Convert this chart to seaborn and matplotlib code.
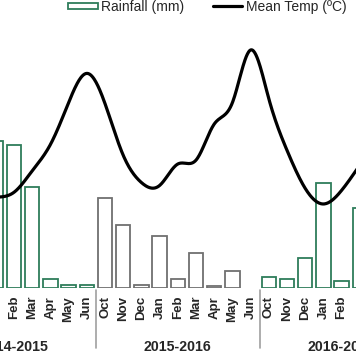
import numpy as np
import pandas as pd
import matplotlib
matplotlib.use('Agg')
import matplotlib.pyplot as plt
import matplotlib.transforms as mtransforms
from matplotlib.patches import Patch, Rectangle
from matplotlib.lines import Line2D
from matplotlib.legend_handler import HandlerPatch
import seaborn as sns

# visible part of the chart: Jan 2015 .. Mar 2017
season_names = ['2014-2015', '2015-2016', '2016-2017']
month_cycle = ['Oct', 'Nov', 'Dec', 'Jan', 'Feb', 'Mar', 'Apr', 'May', 'Jun']

season = ['2014-2015'] * 6 + ['2015-2016'] * 9 + ['2016-2017'] * 6
month = ['Jan', 'Feb', 'Mar', 'Apr', 'May', 'Jun',
         'Oct', 'Nov', 'Dec', 'Jan', 'Feb', 'Mar', 'Apr', 'May', 'Jun',
         'Oct', 'Nov', 'Dec', 'Jan', 'Feb', 'Mar']
rainfall = [147, 143, 101, 9, 3, 3,
            90, 63, 3, 52, 9, 35, 1.5, 17, 0,
            11, 9, 30, 105, 7, 80]
temp = [18.9, 19.4, 21.6, 24.3, 28.6, 31.6,
        28.5, 23.2, 20.4, 20.1, 22.3, 22.7, 26.4, 28.6, 34.0,
        29.0, 23.7, 19.8, 18.2, 19.6, 22.2]

green = '#2e7d5b'
grey = '#707070'

df = pd.DataFrame({'season': season, 'month': month,
                   'rain': rainfall, 'temp': temp})
df['x'] = [season_names.index(s) * 9 + month_cycle.index(m)
           for s, m in zip(df['season'], df['month'])]
df.loc[df['rain'] == 0, 'rain'] = np.nan


# natural cubic spline so the temperature curve is smooth
def smooth(x, y, xn):
    x = np.asarray(x, float)
    y = np.asarray(y, float)
    n = len(x)
    h = np.diff(x)
    A = np.zeros((n, n))
    b = np.zeros(n)
    A[0, 0] = A[-1, -1] = 1
    for i in range(1, n - 1):
        A[i, i - 1] = h[i - 1]
        A[i, i] = 2 * (h[i - 1] + h[i])
        A[i, i + 1] = h[i]
        b[i] = 3 * ((y[i + 1] - y[i]) / h[i] - (y[i] - y[i - 1]) / h[i - 1])
    c = np.linalg.solve(A, b)
    bb = (y[1:] - y[:-1]) / h - h * (2 * c[:-1] + c[1:]) / 3
    d = (c[1:] - c[:-1]) / (3 * h)
    k = np.clip(np.searchsorted(x, xn) - 1, 0, n - 2)
    t = xn - x[k]
    return y[k] + bb[k] * t + c[k] * t ** 2 + d[k] * t ** 3


sns.set_style('white')
plt.rcParams['font.family'] = ['Liberation Sans', 'DejaVu Sans']

fig = plt.figure(figsize=(3.56, 3.64), dpi=100)
ax = fig.add_axes([0, 76.5 / 364, 1, 287.5 / 364])

sns.barplot(data=df, x='x', y='rain', hue='season', native_scale=True,
            palette={'2014-2015': green, '2015-2016': grey, '2016-2017': green},
            fill=False, dodge=False, width=0.8, linewidth=1.3,
            legend=False, ax=ax, zorder=2)

ax2 = ax.twinx()
xs = np.linspace(df['x'].min(), df['x'].max(), 600)
line_df = pd.DataFrame({'x': xs, 'temp': smooth(df['x'], df['temp'], xs)})
sns.lineplot(data=line_df, x='x', y='temp', color='black', lw=2.3, ax=ax2)

ax.set_xlim(3.231, 22.79)
ax.set_ylim(0, 287.5)
ax2.set_ylim(9.63, 39.13)

for a in (ax, ax2):
    for s in a.spines.values():
        s.set_visible(False)
    a.set_yticks([])
    a.set_ylabel('')
    a.set_xlabel('')

# month labels (the first and last month are cut off by the crop)
ticks = df[(df['x'] >= 4) & (df['x'] <= 22)]
ax.set_xticks(ticks['x'])
ax.set_xticklabels(ticks['month'], rotation=90, fontweight='bold', fontsize=9.5)
ax.tick_params(axis='x', length=0, pad=6)

# season separators and season labels under the months
trans = mtransforms.blended_transform_factory(ax.transData, ax.transAxes)
for xv in [8.5, 17.5]:
    ax.plot([xv, xv], [-0.01, -0.21], color='#a0a0a0', lw=1.2,
            transform=trans, clip_on=False)
for i, s in enumerate(season_names):
    ax.text(i * 9 + 4, -0.207, s, transform=trans, ha='center', va='center',
            fontweight='bold', fontsize=10.2, clip_on=False)


def flat_patch(legend, orig_handle, xdescent, ydescent, width, height, fontsize):
    return Rectangle((-xdescent, -ydescent + height * 0.2), width, height * 0.6)


handles = [Patch(facecolor='white', edgecolor=green, lw=1.3),
           Line2D([], [], color='black', lw=2.3)]
fig.legend(handles, ['Rainfall (mm)', 'Mean Temp (ºC)'], loc='center',
           bbox_to_anchor=(207.5 / 356, 1 - 7 / 364), ncol=2, frameon=False,
           fontsize=10, handlelength=2.1, handletextpad=0.25, columnspacing=2.1,
           handler_map={Patch: HandlerPatch(patch_func=flat_patch)})

fig.savefig('out.png', dpi=100)
